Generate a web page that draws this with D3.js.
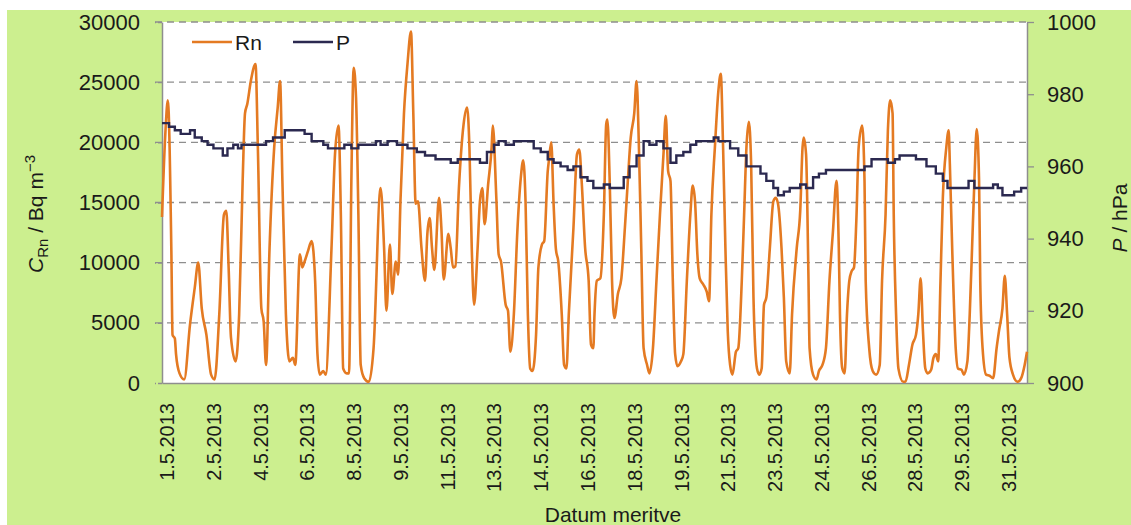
<!DOCTYPE html>
<html>
<head>
<meta charset="utf-8">
<script src="https://cdn.jsdelivr.net/npm/d3@7"></script>
<style>
    body { margin: 0; background: #ffffff; }
    svg text { font-family: "Liberation Sans", Arial, sans-serif; fill: #1a1a1a; }
</style>
</head>
<body>
<svg id="chart" width="1131" height="525"></svg>
<script>
// hours since start of series (hourly data, May 2013)
const tickHours = [4, 44, 84, 124, 164, 204, 244, 284, 324, 364, 404, 444, 484, 524, 564, 604, 644, 684, 724];
const tickLabels = ["1.5.2013", "2.5.2013", "4.5.2013", "6.5.2013", "8.5.2013", "9.5.2013", "11.5.2013",
    "13.5.2013", "14.5.2013", "16.5.2013", "18.5.2013", "19.5.2013", "21.5.2013", "23.5.2013",
    "24.5.2013", "26.5.2013", "28.5.2013", "29.5.2013", "31.5.2013"];

// Radon concentration / Bq m-3
const rnHours = [0, 3, 5, 8, 9, 11, 12, 15, 19, 24, 28, 31, 34, 38, 42, 45, 49, 53, 55, 57, 59, 63, 66, 69, 71, 73, 76, 80,
    82, 85, 87, 89, 92, 96, 99, 101, 103, 106, 109, 112, 114, 118, 120, 122, 125, 128, 131, 133, 135, 138, 140, 145,
    148, 151, 153, 155, 158, 160, 162, 164, 166, 168, 170, 173, 177,
    181, 187, 190, 192, 195, 197, 200, 202, 204, 207, 210, 213, 215, 217, 219, 222, 225, 227, 229, 231, 233, 237, 239,
    241, 245, 247, 249, 251, 254, 258, 261, 263, 265, 267, 270, 272, 274, 276, 279, 282, 283, 286, 288, 290, 294, 296,
    298, 301, 304, 307, 309, 311, 313, 315, 317, 320, 322, 325, 327, 330, 331, 333, 335, 337, 339, 342, 344, 346, 348,
    352, 355, 357, 359, 362, 365, 367,
    369, 370, 372, 375, 378, 380, 381, 383, 385, 387, 390, 393, 396, 398, 401, 404, 406, 408, 410, 412, 415, 417, 420,
    423, 426, 429, 431, 433, 435, 437, 439, 441, 444, 446, 449, 452, 454, 456, 458, 460, 463, 466, 468, 470, 473, 476,
    478, 480, 482, 484, 486, 488, 491, 493, 496, 498, 500, 502, 504, 506, 509, 511, 513, 515, 517, 520, 523, 525, 527,
    530, 532, 534, 537, 539, 543, 546, 548, 549, 551,
    553, 554, 557, 560, 562, 565, 568, 571, 574, 577, 579, 580, 582, 584, 586, 588, 590, 592, 594, 596, 599, 601, 602,
    605, 608, 611, 614, 616, 619, 621, 623, 625, 626, 628, 630, 634, 636, 639, 642, 645, 647, 649, 651, 653, 655, 658,
    660, 662, 664, 666, 668, 671, 673, 674, 676, 679, 681, 684, 686, 689, 691, 693, 695, 697, 699, 700, 702, 705, 708,
    711, 714, 716, 719, 721, 723, 725, 728, 732, 735, 738, 740];
const rnValues = [13800, 21000, 23500, 11000, 4000, 3700, 2400, 800, 300, 4900, 7900, 10000, 6200, 4000, 700, 300, 5700,
    14000, 14300, 9600, 3800, 1800, 5700, 16800, 22400, 23200, 25100, 26500, 19600, 6200, 5100, 1500, 11200, 19600,
    22900, 25100, 16800, 5700, 1800, 2100, 1500, 10700, 9600, 10100, 11000, 11800, 8500, 2400, 700, 1000, 700, 11200,
    19000, 21400, 14000, 1200, 800, 800, 16800, 26200, 23700, 14000, 1500, 400, 100,
    2900, 16200, 11200, 6000, 11500, 7400, 10100, 9000, 15100, 22400, 26500, 29200, 22400, 14900, 15100, 11200, 8500,
    12400, 13700, 11200, 9400, 15400, 12900, 8600, 12400, 11200, 9600, 9700, 16200, 21500, 22900, 19600, 11200, 6500,
    11200, 15100, 16200, 13200, 16500, 19600, 21400, 15400, 10700, 10100, 6500, 6000, 2600, 5700, 12600, 17100, 18500,
    15100, 5700, 1200, 1000, 4000, 9600, 11500, 11800, 17600, 18500, 20000, 14900, 11100, 10100, 5700, 1500, 1200, 5700,
    12900, 19000, 19400, 16800, 11200, 8500, 3200,
    2900, 5700, 8500, 8700, 14000, 21500, 21900, 16800, 8500, 5400, 7400, 8700, 12900, 16000, 20400, 22400, 25100,
    19600, 11200, 2900, 1500, 800, 2900, 8500, 14000, 19000, 22200, 17600, 16800, 8500, 2400, 1400, 1800, 2400, 8500,
    14000, 16400, 15100, 10700, 8700, 8200, 7600, 6800, 14000, 19600, 24300, 25700, 19600, 11200, 4300, 1500, 700, 2600,
    2900, 8500, 14000, 19600, 21700, 18200, 7100, 1200, 700, 1200, 6500, 7100, 11200, 15100, 15400, 14900, 11200, 7100,
    1800, 800, 5700, 11200, 14300, 19600, 20400, 19000,
    9000, 2900, 700, 300, 1000, 1500, 2900, 8500, 12600, 16800, 11200, 5700, 1200, 800, 5700, 8500, 9300, 9600, 13500,
    19600, 21400, 16800, 8500, 2900, 1000, 700, 1500, 8500, 14000, 21000, 23500, 22400, 14000, 5700, 1200, 100, 100,
    1500, 3200, 4000, 5700, 8700, 4300, 1200, 800, 1100, 2100, 2400, 1800, 8500, 15400, 19600, 21000, 18200, 11200, 2900,
    1200, 1100, 700, 1800, 5700, 11200, 16800, 21100, 16800, 8500, 2900, 700, 600, 400, 2900, 4300, 6200, 8900, 5700,
    2100, 700, 100, 400, 1500, 2600];

// air pressure / hPa (whole hPa steps)
const pHours = [0, 6, 11, 16, 24, 28, 34, 39, 44, 52, 56, 61, 65, 68, 89, 95, 105, 122, 128, 138, 142, 156, 162, 168,
    183, 187, 193, 201, 210, 218, 225, 234, 247, 253, 272, 278, 284, 288, 294, 301, 318, 324, 330, 335, 341, 347, 352,
    358, 364, 369, 378, 383, 395, 400, 406, 412, 417, 423, 429, 435, 440, 446, 452, 457, 472, 476, 486, 493, 500, 512,
    517, 523, 527, 532, 537, 546, 551, 557, 562, 568, 601, 607, 621, 627, 631, 645, 654, 662, 668, 672, 690, 695, 711,
    715, 719, 729, 735, 740];
const pValues = [972, 971, 970, 969, 970, 968, 967, 966, 965, 963, 965, 966, 965, 966, 967, 968, 970, 969, 967, 966,
    965, 966, 965, 966, 967, 966, 967, 966, 965, 964, 963, 962, 961, 962, 961, 964, 966, 967, 966, 967, 965, 964, 962,
    961, 960, 959, 960, 957, 956, 954, 955, 954, 957, 960, 963, 967, 966, 967, 965, 961, 963, 964, 966, 967, 968, 967,
    965, 963, 960, 958, 956, 954, 952, 953, 954, 955, 954, 957, 958, 959, 960, 962, 961, 962, 963, 962, 960, 958, 956,
    954, 956, 954, 955, 954, 952, 953, 954, 954];

const rnTicks = [0, 5000, 10000, 15000, 20000, 25000, 30000];
const pTicks = [900, 920, 940, 960, 980, 1000];

const plot = { left: 162, right: 1027, top: 22, bottom: 383 };
const svg = d3.select("#chart");

// background panel
svg.append("rect")
    .attr("x", 7).attr("y", 10)
    .attr("width", 1124).attr("height", 515)
    .attr("fill", "#ccef8f");

svg.append("rect")
    .attr("x", plot.left).attr("y", plot.top)
    .attr("width", plot.right - plot.left).attr("height", plot.bottom - plot.top)
    .attr("fill", "#ffffff");

const x = d3.scaleLinear().domain([0, 740]).range([plot.left, plot.right]);
const yRn = d3.scaleLinear().domain([0, 30000]).range([plot.bottom, plot.top]);
const yP = d3.scaleLinear().domain([900, 1000]).range([plot.bottom, plot.top]);

// dashed gridlines
svg.append("g")
    .selectAll("line")
    .data(rnTicks.filter(d => d > 0))
    .enter()
    .append("line")
    .attr("x1", plot.left - 7).attr("x2", plot.right)
    .attr("y1", d => yRn(d)).attr("y2", d => yRn(d))
    .attr("stroke", "#8e8e8e")
    .attr("stroke-width", 1.3)
    .attr("stroke-dasharray", "7,5");

// axes
const leftAxis = svg.append("g")
    .attr("transform", `translate(${plot.left},0)`)
    .call(d3.axisLeft(yRn).tickValues(rnTicks).tickSize(7).tickSizeOuter(0).tickPadding(15).tickFormat(d3.format("d")));

const rightAxis = svg.append("g")
    .attr("transform", `translate(${plot.right},0)`)
    .call(d3.axisRight(yP).tickValues(pTicks).tickSize(7).tickSizeOuter(0).tickPadding(13).tickFormat(d3.format("d")));

const bottomAxis = svg.append("g")
    .attr("transform", `translate(0,${plot.bottom})`)
    .call(d3.axisBottom(x).tickValues(tickHours).tickSize(0).tickSizeOuter(0)
        .tickFormat((d, i) => tickLabels[i]));

[leftAxis, rightAxis, bottomAxis].forEach(g => {
    g.select(".domain").attr("stroke", "#8e8e8e").attr("stroke-width", 1.5);
    g.selectAll(".tick line").attr("stroke", "#8e8e8e").attr("stroke-width", 1.3);
});
leftAxis.selectAll(".tick line").attr("stroke-dasharray", "4,2");
leftAxis.selectAll("text").style("font-size", "22px").attr("fill", "#1a1a1a");
rightAxis.selectAll("text").style("font-size", "22px").attr("fill", "#1a1a1a");
bottomAxis.selectAll("text")
    .style("font-size", "20px")
    .attr("fill", "#1a1a1a")
    .attr("text-anchor", "end")
    .attr("transform", "rotate(-90)")
    .attr("x", -20)
    .attr("y", 0)
    .attr("dy", "0.35em");

// series
const rnData = rnHours.map((h, i) => [h, rnValues[i]]);
const pData = pHours.map((h, i) => [h, pValues[i]]);

svg.append("path")
    .datum(rnData)
    .attr("fill", "none")
    .attr("stroke", "#e47a22")
    .attr("stroke-width", 2.6)
    .attr("stroke-linejoin", "round")
    .attr("d", d3.line().curve(d3.curveMonotoneX).x(d => x(d[0])).y(d => yRn(d[1])));

svg.append("path")
    .datum(pData)
    .attr("fill", "none")
    .attr("stroke", "#2b2950")
    .attr("stroke-width", 2.4)
    .attr("d", d3.line().curve(d3.curveStepAfter).x(d => x(d[0])).y(d => yP(d[1])));

// legend
const legend = [
    { name: "Rn", color: "#e47a22", x: 192 },
    { name: "P", color: "#2b2950", x: 293 }
];
legend.forEach(l => {
    svg.append("line")
        .attr("x1", l.x).attr("x2", l.x + 40)
        .attr("y1", 42).attr("y2", 42)
        .attr("stroke", l.color).attr("stroke-width", 2.6);
    svg.append("text")
        .attr("x", l.x + 43).attr("y", 49.5)
        .style("font-size", "21px")
        .text(l.name);
});

// axis titles
const leftTitle = svg.append("text")
    .attr("transform", "translate(43,214) rotate(-90)")
    .attr("text-anchor", "middle")
    .style("font-size", "21px");
leftTitle.append("tspan").style("font-style", "italic").text("C");
leftTitle.append("tspan").attr("dy", 5).style("font-size", "15px").text("Rn");
leftTitle.append("tspan").attr("dy", -5).text(" / Bq m");
leftTitle.append("tspan").attr("dy", -8).style("font-size", "15px").text("\u22123");

const rightTitle = svg.append("text")
    .attr("transform", "translate(1127,218) rotate(-90)")
    .attr("text-anchor", "middle")
    .style("font-size", "21px");
rightTitle.append("tspan").style("font-style", "italic").text("P");
rightTitle.append("tspan").text(" / hPa");

svg.append("text")
    .attr("x", 613).attr("y", 522)
    .attr("text-anchor", "middle")
    .style("font-size", "21px")
    .text("Datum meritve");
</script>
</body>
</html>
